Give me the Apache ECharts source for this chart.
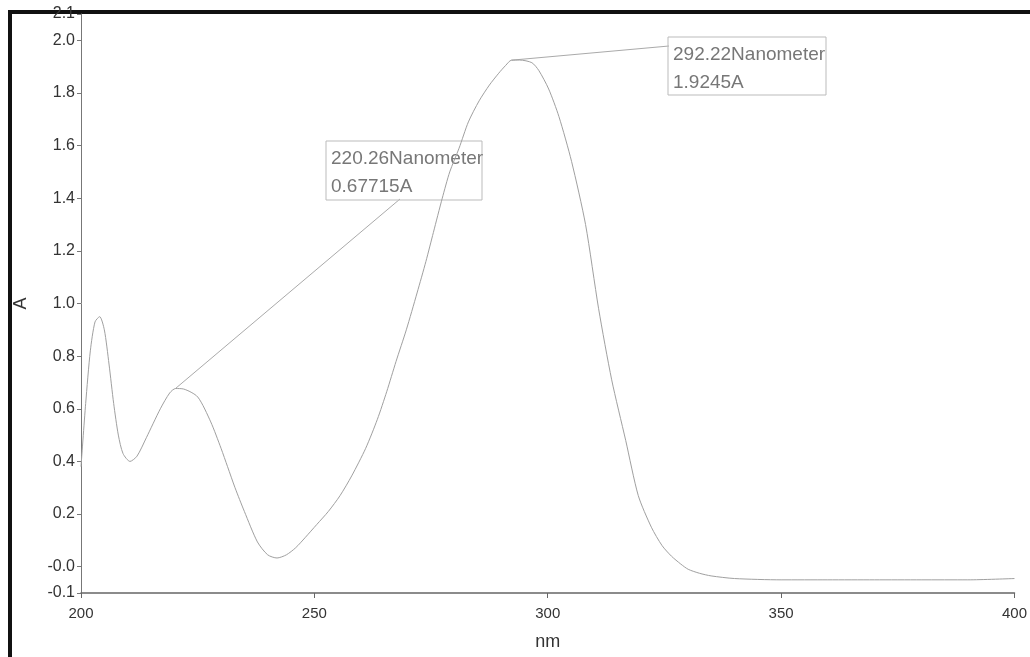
<!DOCTYPE html>
<html lang="en">
<head>
    <meta charset="UTF-8">
    <title>UV spectrum</title>
    <script src="https://cdn.jsdelivr.net/npm/echarts@6.0.0/dist/echarts.min.js"></script>
    <style>
        html, body { margin: 0; padding: 0; background: #fff; }
    </style>
</head>
<body>
<!-- chart box -->
<div id="pic1" style="width:1030px;height:657px;"></div>

<script>
    // wavelength (nm)
    var wavelength = [200, 201, 202, 203, 204, 205, 206, 207, 208, 209, 210.5, 212, 214, 217, 219, 220.26,
        222, 225, 227.8, 230, 231.4, 233, 235, 237.8, 240, 242, 244, 246, 248, 250.5, 253, 255.5,
        258, 261, 263.5, 265.5, 267.5, 269.7, 272, 273.9, 275.5, 277.4, 279, 281, 283, 285.3, 287.5,
        289.5, 291, 292.22, 294, 296.6, 298.1, 300.2, 302.4, 305.1, 308.1, 310.9, 313.7, 316.7, 319.4,
        322.2, 324.5, 326.5, 328.5, 330.1, 332.5, 335, 340, 350, 360, 370, 380, 390, 400];
    // absorbance (A)
    var absorbance = [0.38, 0.62, 0.82, 0.93, 0.95, 0.90, 0.77, 0.62, 0.50, 0.43, 0.40, 0.42, 0.49, 0.60, 0.66, 0.677,
        0.675, 0.645, 0.55, 0.45, 0.38, 0.30, 0.21, 0.094, 0.045, 0.033, 0.045, 0.072, 0.11, 0.16, 0.21, 0.27,
        0.345, 0.45, 0.56, 0.665, 0.78, 0.90, 1.04, 1.16, 1.27, 1.40, 1.50, 1.59, 1.69, 1.77, 1.83,
        1.875, 1.905, 1.9245, 1.925, 1.915, 1.885, 1.815, 1.71, 1.54, 1.30, 0.98, 0.71, 0.48, 0.27,
        0.15, 0.08, 0.04, 0.01, -0.01, -0.025, -0.035, -0.045, -0.05, -0.05, -0.05, -0.05, -0.05, -0.045];

    // peak markers
    var peakNm = [220.26, 292.22];
    var peakA = [0.67715, 1.9245];

    // axis ticks
    var xTicks = [200, 250, 300, 350, 400];
    var yTicks = [-0.1, 0, 0.2, 0.4, 0.6, 0.8, 1.0, 1.2, 1.4, 1.6, 1.8, 2.0, 2.1];

    var points = [];
    for (var i = 0; i < wavelength.length; i++) {
        points.push([wavelength[i], absorbance[i]]);
    }

    var myCharts1 = echarts.init(document.getElementById('pic1'));

    var textFont = '"Liberation Sans", Arial, sans-serif';

    var option1 = {
        backgroundColor: '#fff',
        animation: false,
        grid: {
            left: 81,
            right: 14,
            top: 14,
            bottom: 64
        },
        xAxis: {
            type: 'value',
            min: 200,
            max: 400,
            interval: 50,
            name: 'nm',
            nameLocation: 'middle',
            nameGap: 40,
            nameTextStyle: { color: '#333', fontSize: 18, fontFamily: textFont },
            axisLine: { onZero: false, lineStyle: { color: '#666', width: 1.5 } },
            axisTick: { show: true, inside: false, length: 5, lineStyle: { color: '#666' }, customValues: xTicks },
            axisLabel: { color: '#333', fontSize: 15, fontFamily: textFont, margin: 13, customValues: xTicks },
            splitLine: { show: false }
        },
        yAxis: {
            type: 'value',
            min: -0.1,
            max: 2.1,
            interval: 0.1,
            name: 'A',
            nameLocation: 'middle',
            nameRotate: 90,
            nameGap: 51,
            nameTextStyle: { color: '#333', fontSize: 18, fontFamily: textFont },
            axisLine: { show: true, onZero: false, lineStyle: { color: '#777', width: 1 } },
            axisTick: { show: true, inside: false, length: 4, lineStyle: { color: '#777' }, customValues: yTicks },
            axisLabel: {
                color: '#333', fontSize: 16, fontFamily: textFont, margin: 6,
                customValues: yTicks,
                formatter: function (v) {
                    if (Math.abs(v) < 1e-9) return '-0.0';
                    return v.toFixed(1);
                }
            },
            splitLine: { show: false }
        },
        series: [
            {
                name: 'spectrum',
                type: 'line',
                data: points,
                showSymbol: false,
                smooth: 0.25,
                lineStyle: { color: '#a0a0a0', width: 1 }
            }
        ]
    };

    myCharts1.setOption(option1);

    // leader lines + label boxes, anchored on the peaks
    var boxes = [
        { x: 326, y: 141, w: 156, h: 59, lx: 400, ly: 199 },
        { x: 668, y: 37, w: 158, h: 58, lx: 669, ly: 46 }
    ];
    var graphics = [];
    for (var k = 0; k < peakNm.length; k++) {
        var p = myCharts1.convertToPixel({ gridIndex: 0 }, [peakNm[k], peakA[k]]);
        var b = boxes[k];
        graphics.push({
            type: 'line',
            shape: { x1: p[0], y1: p[1], x2: b.lx, y2: b.ly },
            style: { stroke: '#aaa', lineWidth: 1 }
        });
        graphics.push({
            type: 'rect',
            shape: { x: b.x, y: b.y, width: b.w, height: b.h },
            style: { fill: 'rgba(255,255,255,0)', stroke: '#bbb', lineWidth: 1 }
        });
        graphics.push({
            type: 'text',
            x: b.x + 5,
            y: b.y + 4,
            style: {
                text: peakNm[k].toFixed(2) + 'Nanometer\n' + peakA[k] + 'A',
                fill: '#777',
                fontSize: 19,
                fontFamily: textFont,
                lineHeight: 28
            }
        });
    }
    // black frame of the scanned picture (left and top)
    graphics.push({
        type: 'line',
        shape: { x1: 10, y1: 11, x2: 10, y2: 657 },
        style: { stroke: '#111', lineWidth: 4 }
    });
    graphics.push({
        type: 'line',
        shape: { x1: 8, y1: 12, x2: 1030, y2: 12 },
        style: { stroke: '#111', lineWidth: 4 }
    });

    myCharts1.setOption({ graphic: graphics });
</script>
</body>
</html>
